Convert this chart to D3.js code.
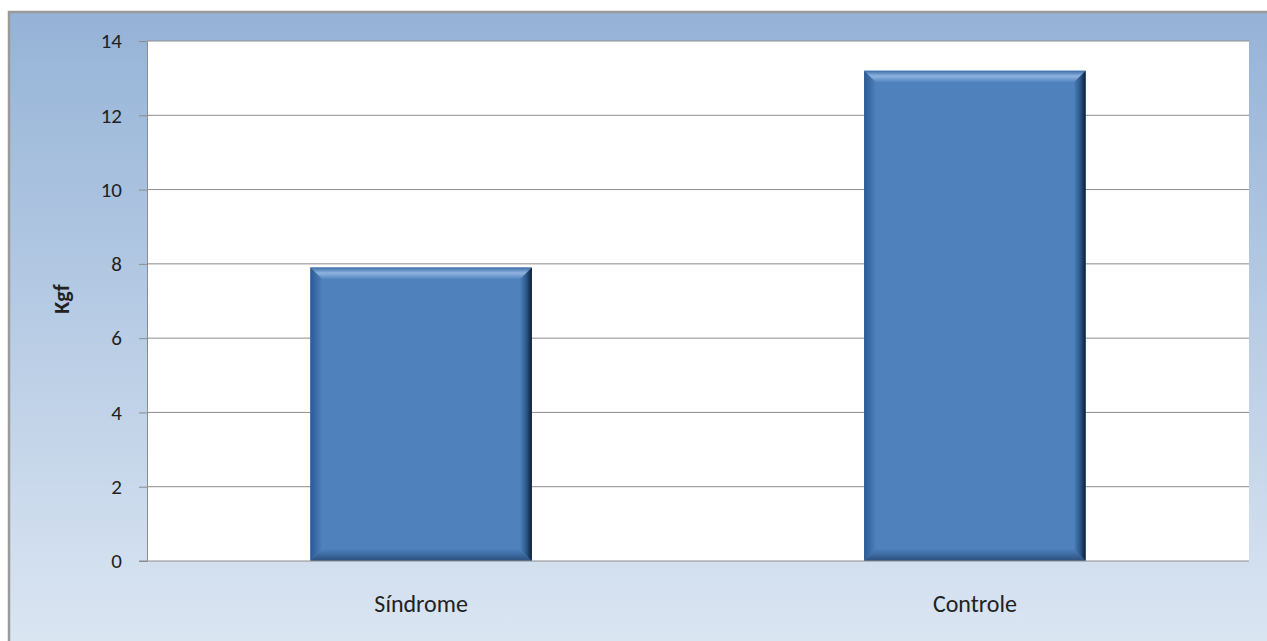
<!DOCTYPE html>
<html>
<head>
<meta charset="utf-8">
<script src="https://cdn.jsdelivr.net/npm/d3@7"></script>
<style>
  body { margin: 0; background: #ffffff; overflow: hidden; }
  svg text { font-family: Carlito, Calibri, Lato, "Open Sans", "Liberation Sans", sans-serif; fill: #222; }
</style>
</head>
<body>
<svg id="chart"></svg>
<script>
// chart values
const categories = ['Síndrome', 'Controle'];
const values = [7.9, 13.2];
const yTicks = [0, 2, 4, 6, 8, 10, 12, 14];
const yLabel = 'Kgf';

const W = 1267, H = 641;
const margin = {top: 41, right: 18, bottom: 80, left: 147};

const svg = d3.select('#chart').attr('width', W).attr('height', H);
const defs = svg.append('defs');

// chart area background gradient
const bg = defs.append('linearGradient').attr('id', 'bg')
  .attr('x1', 0).attr('y1', 0).attr('x2', 0).attr('y2', 1);
bg.append('stop').attr('offset', '0%').attr('stop-color', '#95b3d7');
bg.append('stop').attr('offset', '100%').attr('stop-color', '#dde7f3');

// bevel gradients
const mk = (id, x2, y2, stops) => {
  const g = defs.append('linearGradient').attr('id', id)
    .attr('x1', 0).attr('y1', 0).attr('x2', x2).attr('y2', y2);
  stops.forEach(s => g.append('stop').attr('offset', s[0]).attr('stop-color', s[1]));
};
mk('bTop', 0, 1, [['0%', '#3d6ea8'], ['45%', '#8fb3e0'], ['100%', '#4f81bd']]);
mk('bLeft', 1, 0, [['0%', '#2a5a92'], ['100%', '#4f81bd']]);
mk('bRight', 1, 0, [['0%', '#4f81bd'], ['55%', '#2b5788'], ['100%', '#0c1e33']]);
mk('bBottom', 0, 1, [['0%', '#4f81bd'], ['100%', '#2a4f7c']]);

// outer frame runs past the right and bottom edges of the window
svg.append('rect')
  .attr('x', 9).attr('y', 12).attr('width', W + 10).attr('height', H + 10)
  .attr('fill', 'url(#bg)')
  .attr('stroke', '#9a9a9a').attr('stroke-width', 2.5);

const width = W - margin.left - margin.right;
const height = H - margin.top - margin.bottom;

const chart = svg.append('g').attr('transform', `translate(${margin.left},${margin.top})`);

const xScale = d3.scaleBand().domain(categories).range([0, width]).paddingInner(0.6).paddingOuter(0.295);
const yScale = d3.scaleLinear().domain([0, 14]).range([height, 0]);

chart.append('rect').attr('width', width).attr('height', height).attr('fill', '#ffffff');

// gridlines
chart.selectAll('.grid').data(yTicks.filter(d => d > 0))
  .join('line')
  .attr('x1', 0).attr('x2', width)
  .attr('y1', d => yScale(d)).attr('y2', d => yScale(d))
  .attr('stroke', '#8c8c8c').attr('stroke-width', 1);

// bars with bevel
const bev = 12;
const bars = chart.selectAll('.bar').data(categories.map((c, i) => ({c, v: values[i]})))
  .join('g').attr('class', 'bar');

bars.each(function(d) {
  const g = d3.select(this);
  const x0 = xScale(d.c), x1 = x0 + xScale.bandwidth();
  const y0 = yScale(d.v), y1 = yScale(0);
  g.append('rect').attr('x', x0).attr('y', y0).attr('width', x1 - x0).attr('height', y1 - y0).attr('fill', '#4f81bd');
  const poly = (pts, fill) => g.append('polygon').attr('points', pts.map(p => p.join(',')).join(' ')).attr('fill', fill);
  poly([[x0, y0], [x1, y0], [x1 - bev, y0 + bev], [x0 + bev, y0 + bev]], 'url(#bTop)');
  poly([[x0, y1], [x1, y1], [x1 - bev, y1 - bev], [x0 + bev, y1 - bev]], 'url(#bBottom)');
  poly([[x0, y0], [x0 + bev, y0 + bev], [x0 + bev, y1 - bev], [x0, y1]], 'url(#bLeft)');
  poly([[x1, y0], [x1 - bev, y0 + bev], [x1 - bev, y1 - bev], [x1, y1]], 'url(#bRight)');
});

// axes
const yAxis = d3.axisLeft(yScale).tickValues(yTicks).tickSize(8).tickPadding(17).tickSizeOuter(0);
const yAxisG = chart.append('g').call(yAxis);
yAxisG.select('.domain').attr('stroke', '#8c8c8c');
yAxisG.selectAll('.tick line').attr('stroke', '#8c8c8c');
yAxisG.selectAll('.tick text').attr('font-size', 21).attr('fill', '#222');

const xAxis = d3.axisBottom(xScale).tickSize(0).tickPadding(34).tickSizeOuter(0);
const xAxisG = chart.append('g').attr('transform', `translate(0,${height})`).call(xAxis);
xAxisG.select('.domain').attr('stroke', '#8c8c8c').attr('d', `M-8,0H${width}`);
xAxisG.selectAll('.tick text').attr('font-size', 24).attr('fill', '#222');

chart.append('text')
  .attr('transform', `translate(-86,${height / 2 - 2}) rotate(-90)`)
  .attr('text-anchor', 'middle')
  .attr('dy', '0.35em')
  .attr('font-size', 22).attr('font-weight', 'bold')
  .text(yLabel);
</script>
</body>
</html>
